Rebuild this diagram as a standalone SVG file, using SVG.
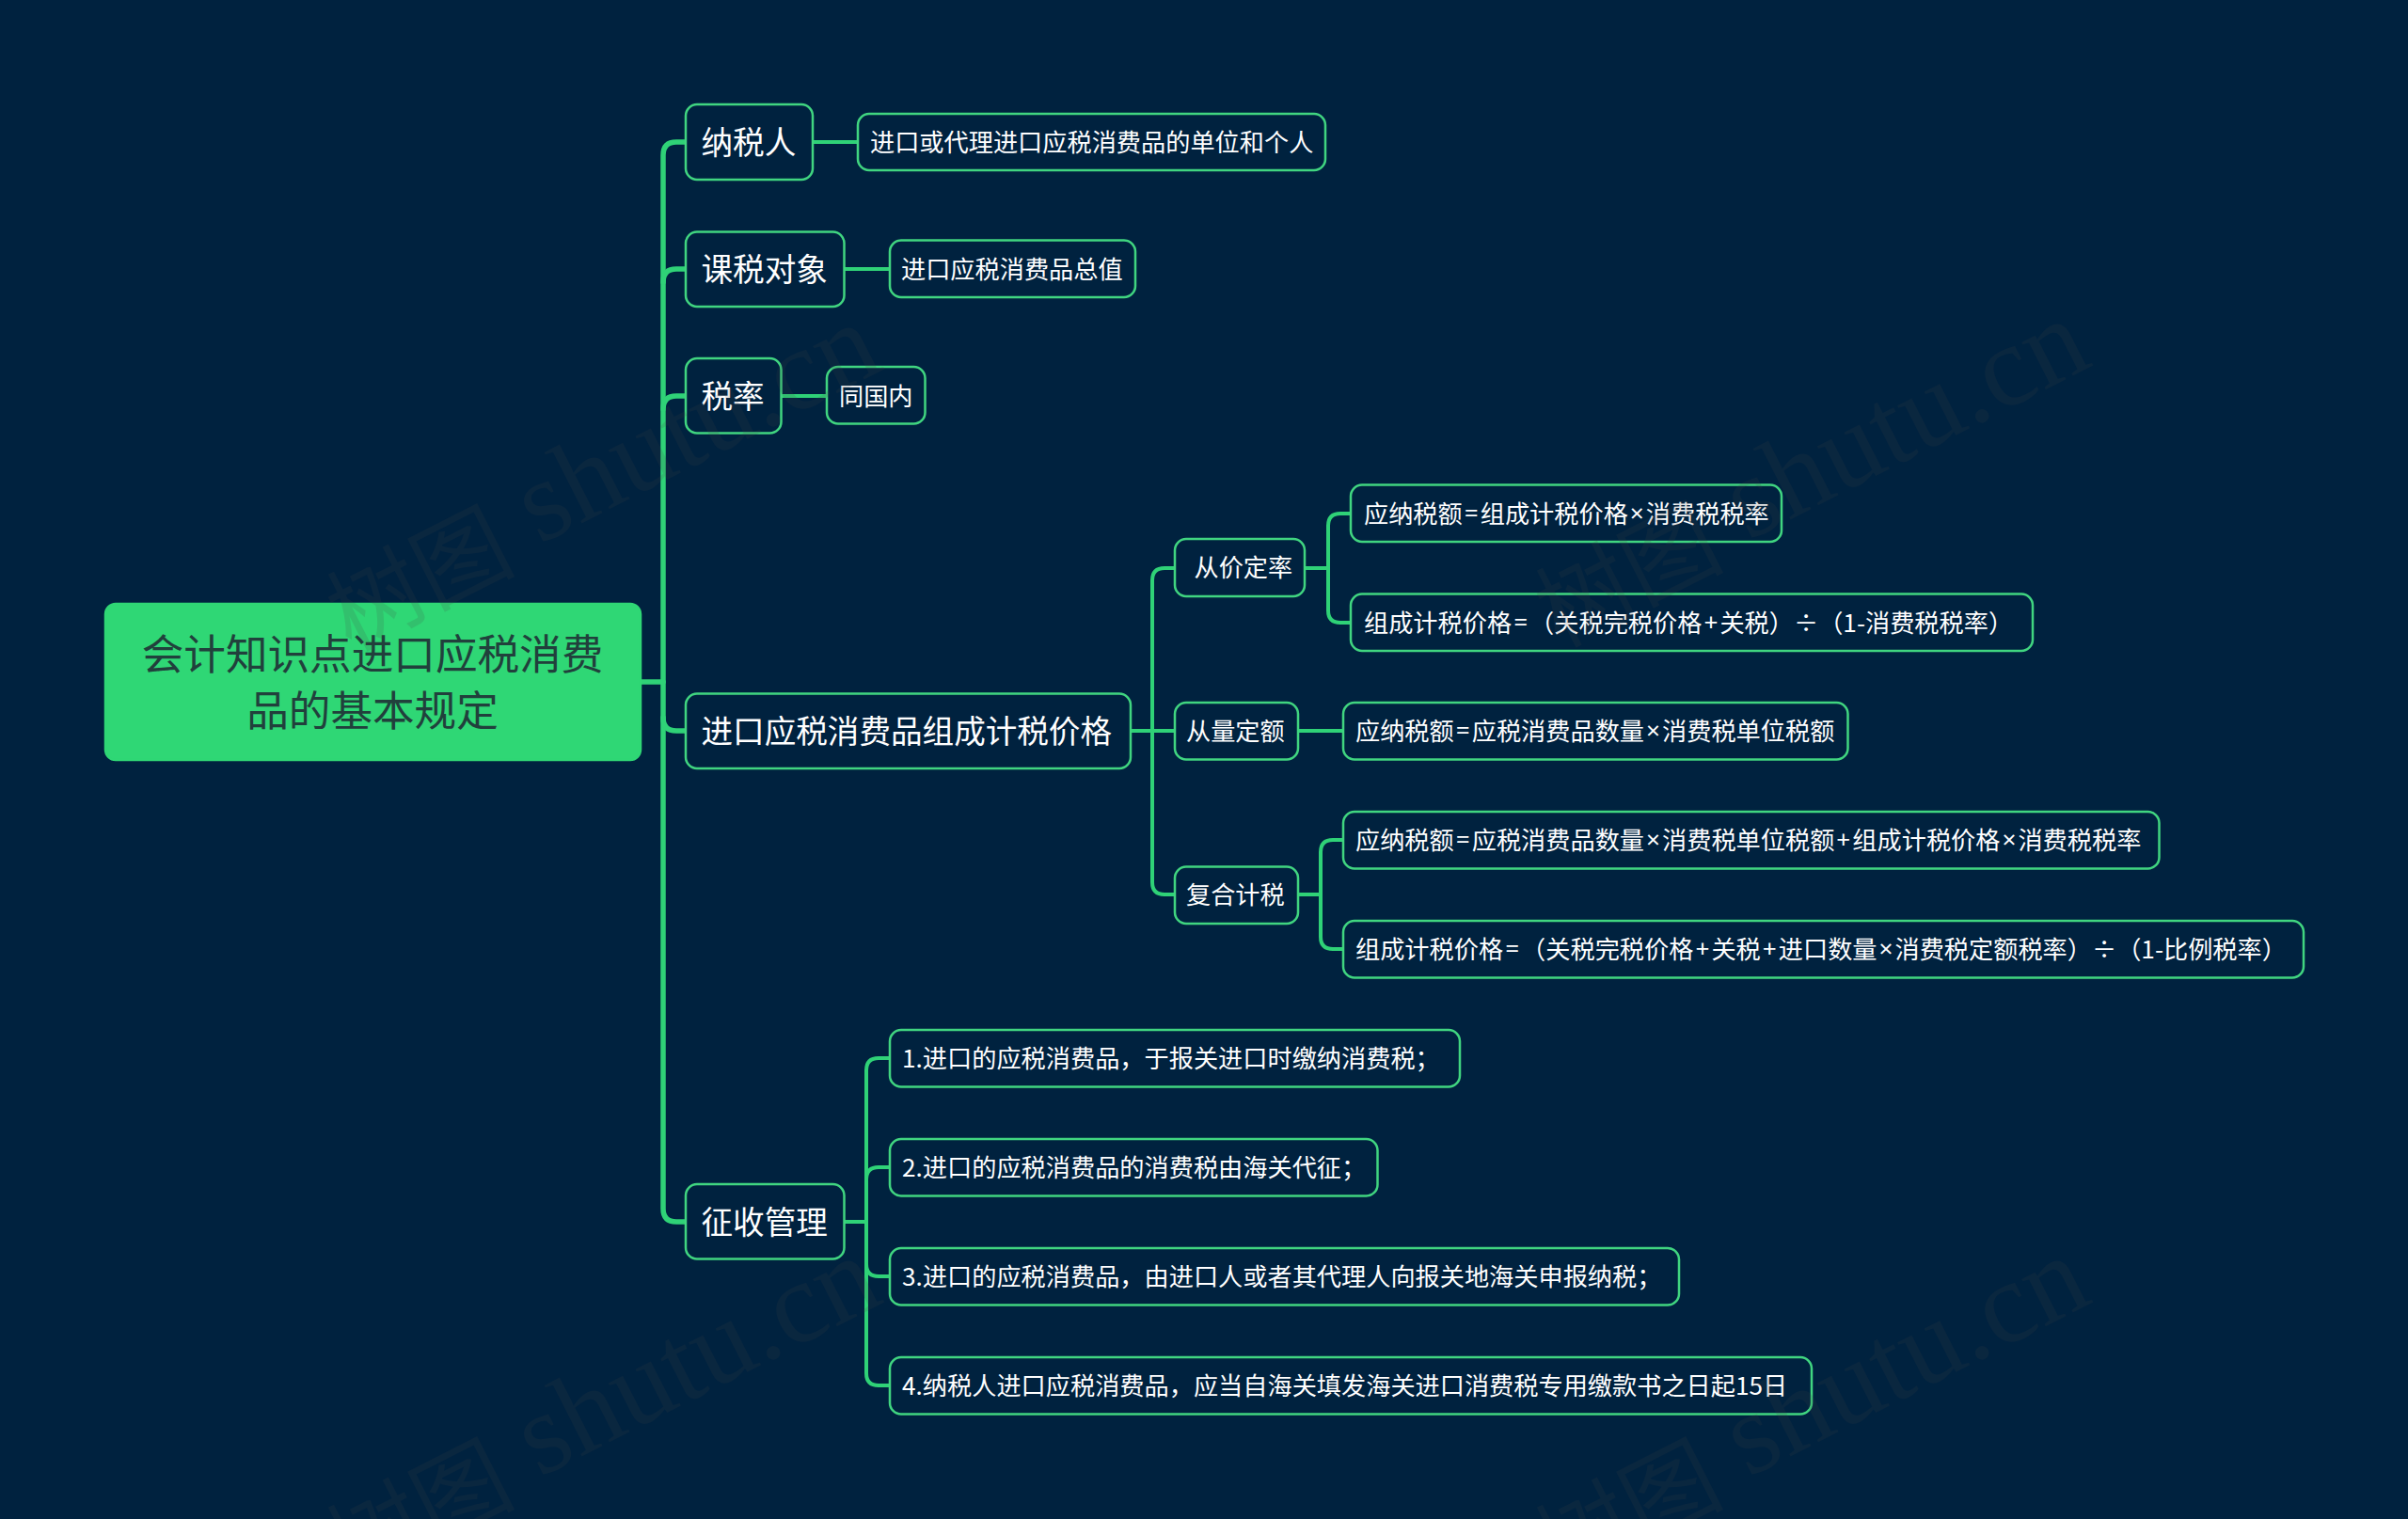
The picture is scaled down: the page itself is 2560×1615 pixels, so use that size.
<svg xmlns="http://www.w3.org/2000/svg" width="2560" height="1615" viewBox="0 0 2560 1615">
<style>
text{font-family:"Noto Sans CJK SC","Noto Sans",sans-serif;dominant-baseline:central}
.n{fill:#00223f;stroke:#40d580;stroke-width:2.5}
.t1{font-size:33.6px;fill:#fff}
.t2{font-size:26.2px;fill:#fff}
.s{font-family:"Noto Sans",sans-serif;letter-spacing:2px}
.root{fill:#2fd775;stroke:#2fd775;stroke-width:2.5}
.tr{font-size:44.6px;fill:#21403c;text-anchor:middle}
.c{fill:none;stroke:#2fd277;stroke-linecap:round}
.c1{stroke-width:5.5}
.c2{stroke-width:4}
.wm{font-family:"Liberation Serif","Noto Sans CJK SC",serif;font-size:123px;fill:#444;opacity:.15;dominant-baseline:auto}
.wc{font-size:100px}
</style>
<rect width="2560" height="1615" fill="#00223f"/>
<g id="connectors">
<path class="c c1" d="M681 725H705"/>
<path class="c c1" d="M729 151H719Q705 151 705 165V1285Q705 1299 719 1299H729"/>
<path class="c c1" d="M705 300Q705 286 719 286H729"/>
<path class="c c1" d="M705 435Q705 421 719 421H729"/>
<path class="c c1" d="M705 763Q705 777 719 777H729"/>
<path class="c c2" d="M864 151H911"/>
<path class="c c2" d="M897 286H946"/>
<path class="c c2" d="M830 421H879"/>
<path class="c c2" d="M1202 777H1249"/>
<path class="c c2" d="M1249 604H1238Q1225 604 1225 617V938Q1225 951 1238 951H1249"/>
<path class="c c2" d="M1387 604H1411"/>
<path class="c c2" d="M1436 546H1425Q1412 546 1412 559V649Q1412 662 1425 662H1436"/>
<path class="c c2" d="M1380 777H1428"/>
<path class="c c2" d="M1380 951H1404"/>
<path class="c c2" d="M1428 893H1417Q1404 893 1404 906V996Q1404 1009 1417 1009H1428"/>
<path class="c c2" d="M898 1299H921"/>
<path class="c c2" d="M946 1125H934Q921 1125 921 1138V1460Q921 1473 934 1473H946"/>
<path class="c c2" d="M921 1254Q921 1241 934 1241H946"/>
<path class="c c2" d="M921 1344Q921 1357 934 1357H946"/>
</g>
<g id="root"><rect class="root" x="112" y="642" width="569" height="166" rx="11"/><text class="tr" x="396" y="692.500">会计知识点进口应税消费</text><text class="tr" x="396" y="752.500">品的基本规定</text></g>
<g id="n1"><rect class="n" x="729" y="111" width="135" height="80" rx="12"/><text class="t1" x="745.500" y="149.500">纳税人</text></g>
<g id="n1a"><rect class="n" x="912" y="121" width="497" height="60" rx="12"/><text class="t2" x="925" y="149.500">进口或代理进口应税消费品的单位和个人</text></g>
<g id="n2"><rect class="n" x="729" y="246.500" width="168.500" height="79.500" rx="12"/><text class="t1" x="745.500" y="284.500">课税对象</text></g>
<g id="n2a"><rect class="n" x="946" y="255.500" width="261" height="60.500" rx="12"/><text class="t2" x="958" y="284.500">进口应税消费品总值</text></g>
<g id="n3"><rect class="n" x="729" y="381" width="101.500" height="79.500" rx="12"/><text class="t1" x="745.500" y="419.500">税率</text></g>
<g id="n3a"><rect class="n" x="879" y="390" width="104.500" height="60.500" rx="12"/><text class="t2" x="892" y="419.500">同国内</text></g>
<g id="n4"><rect class="n" x="729" y="737.500" width="473" height="79.500" rx="12"/><text class="t1" x="745.500" y="775.500">进口应税消费品组成计税价格</text></g>
<g id="n41"><rect class="n" x="1249" y="573" width="138" height="61" rx="12"/><text class="t2" x="1269.500" y="602">从价定率</text></g>
<g id="n411"><rect class="n" x="1436" y="515.500" width="458" height="60.500" rx="12"/><text class="t2" x="1450" y="544.500">应纳税额<tspan class="s" dx="2">=</tspan>组成计税价格<tspan class="s" dx="2">×</tspan>消费税税率</text></g>
<g id="n412"><rect class="n" x="1436" y="631.500" width="725" height="60.500" rx="12"/><text class="t2" x="1450" y="660.500">组成计税价格<tspan class="s" dx="2">=</tspan>（关税完税价格<tspan class="s" dx="2">+</tspan>关税）÷（1-消费税税率）</text></g>
<g id="n42"><rect class="n" x="1249" y="747" width="131" height="60.500" rx="12"/><text class="t2" x="1261" y="775.500">从量定额</text></g>
<g id="n421"><rect class="n" x="1428" y="747" width="536.500" height="60.500" rx="12"/><text class="t2" x="1441" y="775.500">应纳税额<tspan class="s" dx="2">=</tspan>应税消费品数量<tspan class="s" dx="2">×</tspan>消费税单位税额</text></g>
<g id="n43"><rect class="n" x="1249" y="921.500" width="131" height="60.500" rx="12"/><text class="t2" x="1261" y="950">复合计税</text></g>
<g id="n431"><rect class="n" x="1428" y="863" width="867.500" height="60.500" rx="12"/><text class="t2" x="1441" y="891.500">应纳税额<tspan class="s" dx="2">=</tspan>应税消费品数量<tspan class="s" dx="2">×</tspan>消费税单位税额<tspan class="s" dx="2">+</tspan>组成计税价格<tspan class="s" dx="2">×</tspan>消费税税率</text></g>
<g id="n432"><rect class="n" x="1428" y="979" width="1021" height="60.500" rx="12"/><text class="t2" x="1441" y="1007.500">组成计税价格<tspan class="s" dx="2">=</tspan>（关税完税价格<tspan class="s" dx="2">+</tspan>关税<tspan class="s" dx="2">+</tspan>进口数量<tspan class="s" dx="2">×</tspan>消费税定额税率）÷（1-比例税率）</text></g>
<g id="n5"><rect class="n" x="729" y="1259" width="168.500" height="79.500" rx="12"/><text class="t1" x="745.500" y="1297.500">征收管理</text></g>
<g id="n51"><rect class="n" x="946" y="1095" width="606" height="60.500" rx="12"/><text class="t2" x="959" y="1123.500">1.进口的应税消费品，于报关进口时缴纳消费税；</text></g>
<g id="n52"><rect class="n" x="946" y="1211" width="518.500" height="60.500" rx="12"/><text class="t2" x="959" y="1239.500">2.进口的应税消费品的消费税由海关代征；</text></g>
<g id="n53"><rect class="n" x="946" y="1327" width="839" height="60.500" rx="12"/><text class="t2" x="959" y="1355.500">3.进口的应税消费品，由进口人或者其代理人向报关地海关申报纳税；</text></g>
<g id="n54"><rect class="n" x="946" y="1443" width="980" height="60.500" rx="12"/><text class="t2" x="959" y="1471.500">4.纳税人进口应税消费品，应当自海关填发海关进口消费税专用缴款书之日起15日</text></g>
<g id="watermarks">
<text class="wm" transform="translate(368 684) rotate(-27)"><tspan class="wc" dy="10">树图</tspan><tspan dy="-10"> shutu.cn</tspan></text>
<text class="wm" transform="translate(1653 680) rotate(-27)"><tspan class="wc" dy="10">树图</tspan><tspan dy="-10"> shutu.cn</tspan></text>
<text class="wm" transform="translate(368 1676) rotate(-27)"><tspan class="wc" dy="10">树图</tspan><tspan dy="-10"> shutu.cn</tspan></text>
<text class="wm" transform="translate(1653 1676) rotate(-27)"><tspan class="wc" dy="10">树图</tspan><tspan dy="-10"> shutu.cn</tspan></text>
</g>
</svg>
